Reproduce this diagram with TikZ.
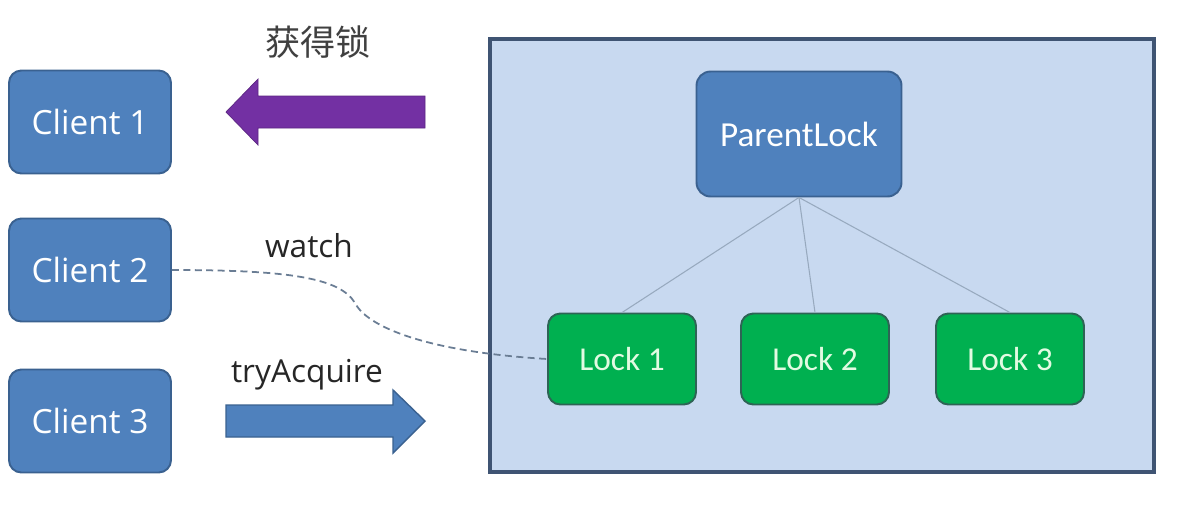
\documentclass[tikz,border=0pt]{standalone}
\usepackage{fontspec}
\usepackage{xcolor}
\newfontfamily\uifont{Open Sans}
\newfontfamily\lockfont{Carlito}
\newfontfamily\cjk{Noto Sans CJK SC}
\definecolor{boxblue}{HTML}{4F81BD}
\definecolor{boxedge}{HTML}{3A6190}
\definecolor{lockgreen}{HTML}{00B050}
\definecolor{lockedge}{HTML}{2E6455}
\definecolor{locktext}{HTML}{E2FBE2}
\definecolor{panel}{HTML}{C8D9F0}
\definecolor{paneledge}{HTML}{3F5473}
\definecolor{grabpurple}{HTML}{7330A3}
\definecolor{linkline}{HTML}{7D93AE}

\begin{document}
\begin{tikzpicture}[x=0.02cm,y=-0.02cm,
  client/.style={rectangle,rounded corners=7pt,draw=boxedge,line width=1.1pt,fill=boxblue,
    minimum width=3.24cm,minimum height=2.06cm,text=white,font=\uifont\fontsize{19}{21}\selectfont},
  parent/.style={rectangle,rounded corners=8pt,draw=boxedge,line width=1.1pt,fill=boxblue,
    minimum width=4.1cm,minimum height=2.5cm,text=white,font=\lockfont\fontsize{20}{22}\selectfont},
  lock/.style={rectangle,rounded corners=7pt,draw=lockedge,line width=1.1pt,fill=lockgreen,
    minimum width=2.96cm,minimum height=1.82cm,text=locktext,font=\lockfont\fontsize{19}{21}\selectfont},
  label/.style={text=black!85,font=\uifont\fontsize{18}{20}\selectfont}]
\useasboundingbox (0,0) rectangle (1184,508);
\fill[white] (0,0) rectangle (1184,508);
\draw[fill=panel,draw=paneledge,line width=2pt] (490,39) rectangle (1154,472);
\node (c1) at (90,122) [client] {Client 1};
\node (c2) at (90,270) [client] {Client 2};
\node (c3) at (90,421) [client] {Client 3};
\node (p) at (799,134) [parent] {ParentLock};
\node (l1) at (622,359) [lock] {Lock 1};
\node (l2) at (815,359) [lock] {Lock 2};
\node (l3) at (1010,359) [lock] {Lock 3};
\draw[linkline!80,line width=0.6pt] (p.south) -- (l1.north);
\draw[linkline!80,line width=0.6pt] (p.south) -- (l2.north);
\draw[linkline!80,line width=0.6pt] (p.south) -- (l3.north);
\draw[fill=grabpurple,draw=grabpurple!80!black,line width=0.4pt]
  (226,112) -- (258,79) -- (258,96) -- (425,96) -- (425,128) -- (258,128) -- (258,145) -- cycle;
\draw[fill=boxblue,draw=boxedge,line width=0.8pt]
  (226,405) -- (393,405) -- (393,390) -- (425,421) -- (393,453) -- (393,437) -- (226,437) -- cycle;
\node (grab) at (318,42) [text=black!75,font=\cjk\fontsize{20}{22}\selectfont] {获得锁};
\node (watch) at (309,246) [label] {watch};
\node (try) at (307,375) [label] {tryAcquire};
\draw[linkline!85!black,dashed,line width=1pt,dash pattern=on 4pt off 2.5pt]
  (c2.east) .. controls (290,270) and (340,278) .. (355,303)
  .. controls (368,328) and (430,352) .. (l1.west);
\end{tikzpicture}
\end{document}
